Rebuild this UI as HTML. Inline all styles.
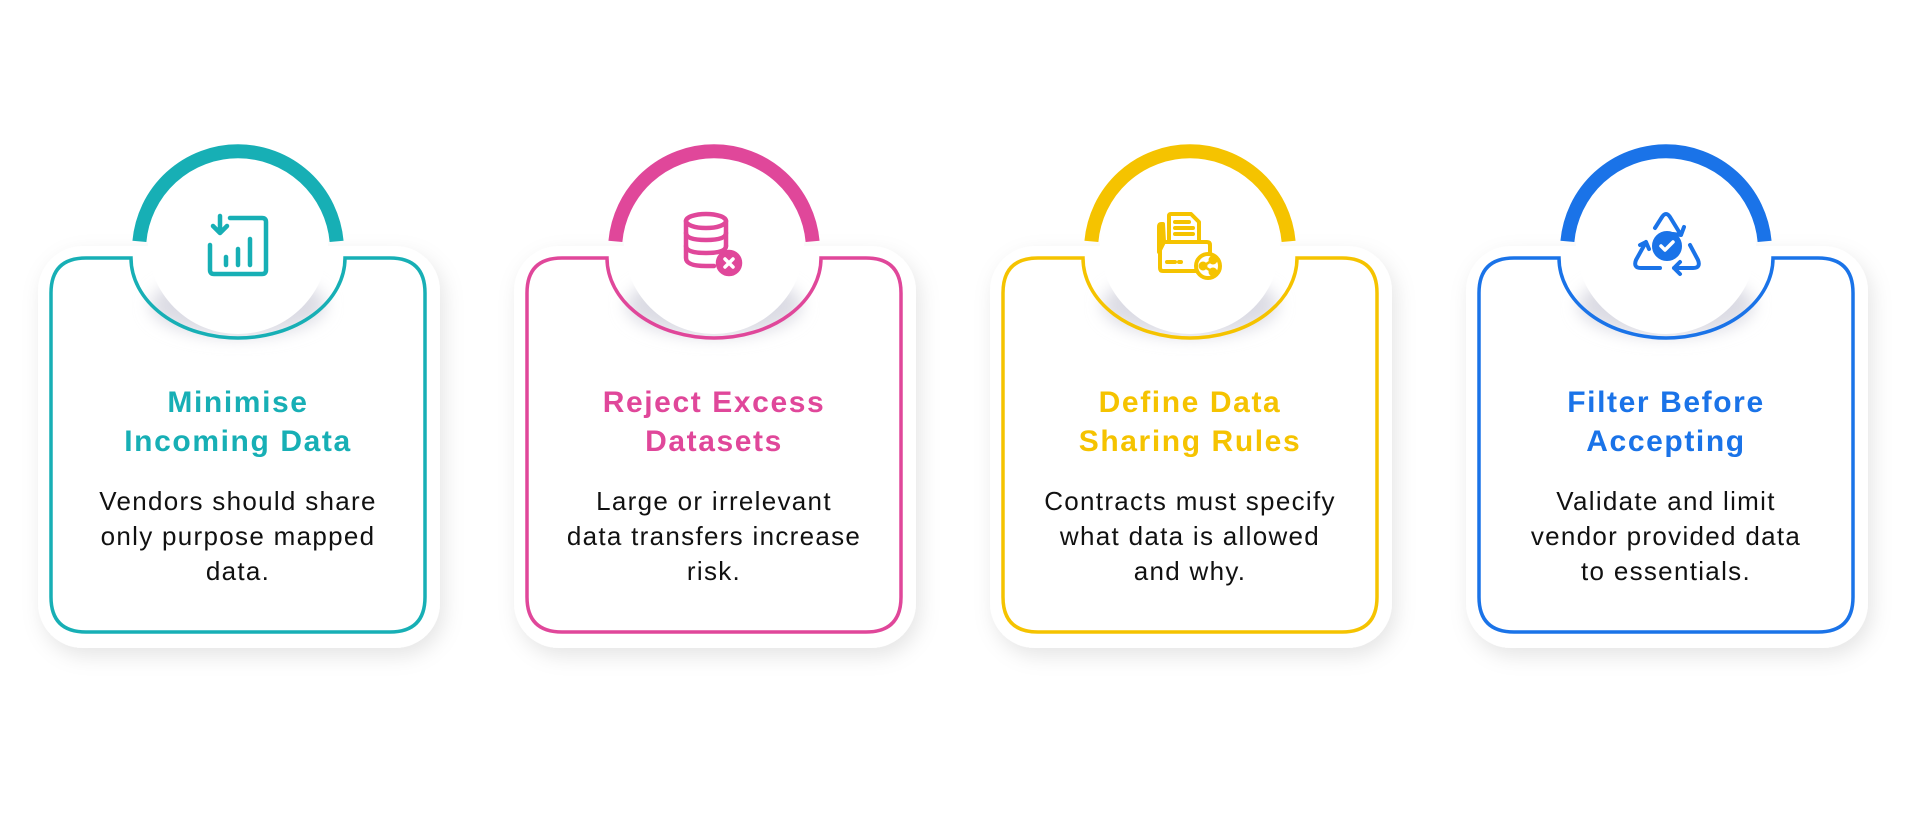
<!DOCTYPE html>
<html><head><meta charset="utf-8">
<style>
html,body{margin:0;padding:0;background:#fff;}
body{width:1920px;height:823px;position:relative;overflow:hidden;font-family:"Liberation Sans",sans-serif;}
svg{position:absolute;left:0;top:0;}
.t{position:absolute;width:400px;text-align:center;font-weight:bold;font-size:30px;line-height:39px;letter-spacing:1.6px;top:383px;}
.b{position:absolute;width:400px;text-align:center;font-size:26px;line-height:35px;letter-spacing:1.3px;top:484px;color:#111;}
</style></head><body>
<svg width="1920" height="823" viewBox="0 0 1920 823">
<defs>
<filter id="sh" x="-20%" y="-20%" width="140%" height="140%"><feDropShadow dx="4" dy="8" stdDeviation="10" flood-color="#000" flood-opacity="0.10"/></filter>
<filter id="bl" x="-30%" y="-50%" width="160%" height="200%"><feGaussianBlur stdDeviation="8"/></filter>
<g id="base">
<rect x="38" y="246" width="402" height="402" rx="45" fill="#fff" filter="url(#sh)"/>
<ellipse cx="238" cy="305" rx="88" ry="32" fill="#dcdce4" filter="url(#bl)"/>
<circle cx="238" cy="244" r="90" fill="#fff"/>
</g>
</defs>

<g transform="translate(0,0)" fill="none">
<use href="#base"/>
<path d="M86 258 L131 258 A107 80 0 0 0 345 258 L390 258 Q425 258 425 293 L425 597 Q425 632 390 632 L86 632 Q51 632 51 597 L51 293 Q51 258 86 258 Z" stroke="#17AFB5" stroke-width="3.5"/>
<path d="M139.4 241.4 A99 99 0 0 1 336.6 241.4" stroke="#17AFB5" stroke-width="14"/>
<g transform="translate(208,215)" stroke="#17AFB5" stroke-width="4.5" stroke-linecap="round" stroke-linejoin="round">
<path d="M22 3 L54 3 Q58 3 58 7 L58 55 Q58 59 54 59 L6 59 Q2 59 2 55 L2 30"/>
<path d="M12 1 L12 18 M5 11 L12 18 L19 11"/>
<path d="M18 50 L18 42 M30 50 L30 34 M42 50 L42 24"/>
</g>
</g>

<g transform="translate(476,0)" fill="none">
<use href="#base"/>
<path d="M86 258 L131 258 A107 80 0 0 0 345 258 L390 258 Q425 258 425 293 L425 597 Q425 632 390 632 L86 632 Q51 632 51 597 L51 293 Q51 258 86 258 Z" stroke="#E0479A" stroke-width="3.5"/>
<path d="M139.4 241.4 A99 99 0 0 1 336.6 241.4" stroke="#E0479A" stroke-width="14"/>
<g transform="translate(206,212)" stroke="#E0479A" stroke-width="4.5" stroke-linecap="round">
<ellipse cx="24" cy="9" rx="20" ry="7"/>
<path d="M4 9 L4 46 Q4 54 24 54 L32 54 M44 9 L44 34"/>
<path d="M4 21 Q4 28 24 28 Q44 28 44 21 M4 34 Q4 41 24 41 Q44 41 44 34"/>
<circle cx="47" cy="51" r="11" fill="#E0479A"/>
<path d="M43 47 L51 55 M51 47 L43 55" stroke="#fff" stroke-width="3.5"/>
</g>
</g>

<g transform="translate(952,0)" fill="none">
<use href="#base"/>
<path d="M86 258 L131 258 A107 80 0 0 0 345 258 L390 258 Q425 258 425 293 L425 597 Q425 632 390 632 L86 632 Q51 632 51 597 L51 293 Q51 258 86 258 Z" stroke="#F5C300" stroke-width="3.5"/>
<path d="M139.4 241.4 A99 99 0 0 1 336.6 241.4" stroke="#F5C300" stroke-width="14"/>
<g transform="translate(205,212)" stroke="#F5C300" stroke-width="4" stroke-linecap="round" stroke-linejoin="round">
<path d="M6 12 L4 12 Q2 12 2 15 L2 40 L7 30 Z" fill="#F5C300"/>
<path d="M12 30 L12 4 Q12 2 14 2 L34 2 L42 10 L42 30"/>
<path d="M18 10 L32 10 M18 16 L36 16 M18 22 L36 22"/>
<path d="M8 30 L50 30 Q53 30 53 33 L53 40 M40 59 L6 59 Q3 59 3 56 L3 36"/>
<path d="M10 50 L18 50 M22 50 L24 50"/>
<circle cx="51" cy="54" r="12"/>
<circle cx="56" cy="48" r="2.5" fill="#F5C300"/><circle cx="46" cy="54" r="2.5" fill="#F5C300"/><circle cx="56" cy="60" r="2.5" fill="#F5C300"/>
<path d="M56 48 L46 54 L56 60" stroke-width="2.5"/>
</g>
</g>

<g transform="translate(1428,0)" fill="none">
<use href="#base"/>
<path d="M86 258 L131 258 A107 80 0 0 0 345 258 L390 258 Q425 258 425 293 L425 597 Q425 632 390 632 L86 632 Q51 632 51 597 L51 293 Q51 258 86 258 Z" stroke="#1A73E8" stroke-width="3.5"/>
<path d="M139.4 241.4 A99 99 0 0 1 336.6 241.4" stroke="#1A73E8" stroke-width="14"/>
<g transform="translate(203,208)" stroke="#1A73E8" stroke-width="4" stroke-linecap="round" stroke-linejoin="round">
<path d="M24 20 L31 9 Q35 3 39 9 L50 27 M42 26 L50 27 L53 19"/>
<path d="M59 37 L67 52 Q70 60 62 60 L43 60 M49 54 L43 60 L49 66"/>
<path d="M29 60 L10 60 Q2 60 5 52 L15 34 M9 37 L15 34 L18 41"/>
<circle cx="36" cy="38" r="13" fill="#1A73E8"/>
<path d="M30 38 L34 42 L42 34" stroke="#fff" stroke-width="3.5"/>
</g>
</g>
</svg>

<div class="t" style="left:38px;color:#17AFB5">Minimise<br>Incoming Data</div>
<div class="b" style="left:38px">Vendors should share<br>only purpose mapped<br>data.</div>

<div class="t" style="left:514px;color:#E0479A">Reject Excess<br>Datasets</div>
<div class="b" style="left:514px">Large or irrelevant<br>data transfers increase<br>risk.</div>

<div class="t" style="left:990px;color:#F5C300">Define Data<br>Sharing Rules</div>
<div class="b" style="left:990px">Contracts must specify<br>what data is allowed<br>and why.</div>

<div class="t" style="left:1466px;color:#1A73E8">Filter Before<br>Accepting</div>
<div class="b" style="left:1466px">Validate and limit<br>vendor provided data<br>to essentials.</div>
</body></html>
